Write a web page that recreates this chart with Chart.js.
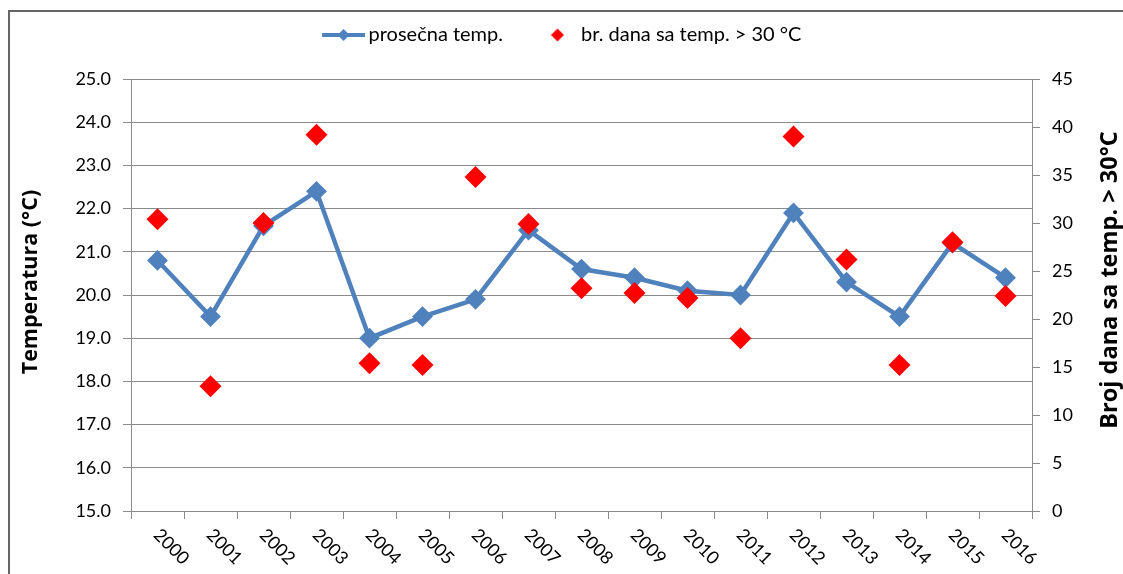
<!DOCTYPE html>
<html>
<head>
<meta charset="utf-8">
<script src="https://cdn.jsdelivr.net/npm/chart.js@4"></script>
<style>
html,body{margin:0;padding:0;background:#fff;overflow:hidden;}
canvas{display:block;}
</style>
</head>
<body>
<canvas id="c" width="1123" height="574"></canvas>
<script>
const years = ['2000','2001','2002','2003','2004','2005','2006','2007','2008','2009','2010','2011','2012','2013','2014','2015','2016'];
const avgTemp = [20.8,19.5,21.6,22.4,19.0,19.5,19.9,21.5,20.6,20.4,20.1,20.0,21.9,20.3,19.5,21.2,20.4];
const hotDays = [30.4,13,30,39.2,15.4,15.2,34.8,29.9,23.2,22.7,22.2,18,39,26.2,15.2,28,22.4];
const seriesNames = ['prosečna temp.', 'br. dana sa temp. > 30 °C'];
const axisTitles = ['Temperatura (°C)', 'Broj dana sa temp. > 30°C'];
const tempRange = [15, 25, 1];
const daysRange = [0, 45, 5];

const BLUE = '#4F81BD';
const RED = '#FF0000';
const GRID = '#8a8a8a';
const FONT = 'Lato';
const TITLE_FONT = '"Open Sans"';

function makeLineIcon(){
  const c = document.createElement('canvas');
  c.width = 52; c.height = 16;
  const g = c.getContext('2d');
  g.strokeStyle = BLUE; g.lineWidth = 4;
  g.beginPath(); g.moveTo(8,8); g.lineTo(51,8); g.stroke();
  g.fillStyle = BLUE;
  g.beginPath(); g.moveTo(29.5-6,8); g.lineTo(29.5,2); g.lineTo(29.5+6,8); g.lineTo(29.5,14); g.closePath(); g.fill();
  return c;
}
function makeDiamondIcon(){
  const c = document.createElement('canvas');
  c.width = 30; c.height = 16;
  const g = c.getContext('2d');
  g.fillStyle = RED;
  g.beginPath(); g.moveTo(20-6.5,8); g.lineTo(20,1.5); g.lineTo(20+6.5,8); g.lineTo(20,14.5); g.closePath(); g.fill();
  return c;
}
const legendIcons = [makeLineIcon(), makeDiamondIcon()];

const custom = {
  id: 'custom',
  beforeLayout(chart){
    const lg = chart.legend;
    if (lg && !lg._fixed){
      const f = lg.fit;
      lg.fit = function(){ f.call(this); this.height = 79; };
      lg._fixed = true;
    }
  },
  afterLayout(chart){
    if (chart.legend) chart.legend.top = -6;
  },
  beforeDraw(chart){
    const ctx = chart.ctx;
    ctx.save();
    ctx.fillStyle = '#fff';
    ctx.fillRect(0,0,chart.width,chart.height);
    ctx.strokeStyle = '#666';
    ctx.lineWidth = 2;
    ctx.beginPath();
    ctx.moveTo(9, chart.height); ctx.lineTo(9, 11); ctx.lineTo(chart.width, 11);
    ctx.stroke();
    ctx.restore();
  },
  afterDraw(chart){
    const ctx = chart.ctx;
    const xs = chart.scales.x;
    ctx.save();
    ctx.fillStyle = '#000';
    ctx.font = '18px ' + FONT;
    ctx.textAlign = 'left';
    ctx.textBaseline = 'middle';
    const y0 = chart.chartArea.bottom + 20;
    years.forEach((lab, i) => {
      const px = xs.getPixelForValue(i);
      ctx.save();
      ctx.translate(px - 1, y0 + 1);
      ctx.rotate(Math.PI/4);
      ctx.fillText(lab, 0, 0);
      ctx.restore();
    });
    // axis titles
    ctx.textAlign = 'center';
    ctx.textBaseline = 'middle';
    const cy = 280;
    ctx.font = 'bold 21.5px ' + TITLE_FONT;
    ctx.save(); ctx.translate(31, cy + 2); ctx.rotate(-Math.PI/2); ctx.fillText(axisTitles[0], 0, 0); ctx.restore();
    ctx.font = 'bold 23.5px ' + TITLE_FONT;
    ctx.save(); ctx.translate(1110, cy); ctx.rotate(-Math.PI/2); ctx.fillText(axisTitles[1], 0, 0); ctx.restore();
    ctx.restore();
  }
};

new Chart(document.getElementById('c'), {
  type: 'line',
  data: {
    labels: years,
    datasets: [
      {
        label: seriesNames[0], data: avgTemp, yAxisID: 'y',
        borderColor: BLUE, backgroundColor: BLUE, borderWidth: 4.5, tension: 0,
        pointStyle: 'rectRot', pointRadius: 9, pointBorderWidth: 2,
        pointBackgroundColor: BLUE, pointBorderColor: BLUE, order: 2
      },
      {
        label: seriesNames[1], data: hotDays, yAxisID: 'y2', showLine: false,
        borderColor: RED, backgroundColor: RED,
        pointStyle: 'rectRot', pointRadius: 11, pointBorderWidth: 0,
        pointBackgroundColor: RED, pointBorderColor: RED, order: 1
      }
    ]
  },
  options: {
    responsive: false, animation: false,
    layout: { padding: { top: 0, left: 0, right: 0, bottom: 0 } },
    plugins: {
      tooltip: { enabled: false },
      legend: {
        position: 'top', align: 'center',
        labels: {
          usePointStyle: true, pointStyleWidth: 37, padding: 31,
          color: '#000', font: { family: FONT, size: 20 },
          generateLabels: () => seriesNames.map((t, i) => ({
            text: t, pointStyle: legendIcons[i], fillStyle: i ? RED : BLUE,
            strokeStyle: i ? RED : BLUE, lineWidth: 0, hidden: false,
            datasetIndex: i, fontColor: '#000'
          }))
        }
      }
    },
    scales: {
      x: {
        offset: true,
        grid: { offset: true, drawOnChartArea: false, tickLength: 8, color: GRID },
        border: { color: GRID },
        ticks: { autoSkip: false, maxRotation: 0, color: 'rgba(0,0,0,0)', font: { family: FONT, size: 18 } },
        afterFit(s){ s.height = 63; }
      },
      y: {
        position: 'left', min: tempRange[0], max: tempRange[1],
        ticks: { stepSize: tempRange[2], padding: 12, color: '#000', font: { family: FONT, size: 18 },
                 callback: v => Number(v).toFixed(1) },
        grid: { color: GRID, tickLength: 8 },
        border: { color: GRID },
        afterFit(s){ s.width = 131; }
      },
      y2: {
        position: 'right', min: daysRange[0], max: daysRange[1],
        ticks: { stepSize: daysRange[2], padding: 12, color: '#000', font: { family: FONT, size: 18 } },
        grid: { drawOnChartArea: false, color: GRID, tickLength: 8 },
        border: { color: GRID },
        afterFit(s){ s.width = 91; }
      }
    }
  },
  plugins: [custom]
});
</script>
</body>
</html>
